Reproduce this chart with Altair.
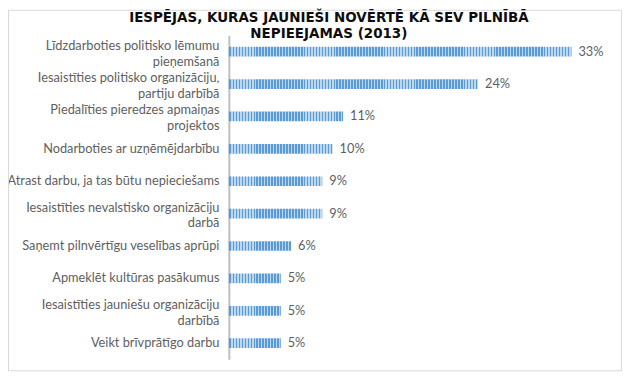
import altair as alt
import pandas as pd

categories = [
    "Līdzdarboties politisko lēmumu\npieņemšanā",
    "Iesaistīties politisko organizāciju,\npartiju darbībā",
    "Piedalīties pieredzes apmaiņas\nprojektos",
    "Nodarboties ar uzņēmējdarbību",
    "Atrast darbu, ja tas būtu nepieciešams",
    "Iesaistīties nevalstisko organizāciju\ndarbā",
    "Saņemt pilnvērtīgu veselības aprūpi",
    "Apmeklēt kultūras pasākumus",
    "Iesaistīties jauniešu organizāciju\ndarbībā",
    "Veikt brīvprātīgo darbu",
]
values = [33, 24, 11, 10, 9, 9, 6, 5, 5, 5]
value_labels = ["33%", "24%", "11%", "10%", "9%", "9%", "6%", "5%", "5%", "5%"]
title_lines = ["IESPĒJAS, KURAS JAUNIEŠI NOVĒRTĒ KĀ SEV PILNĪBĀ", "NEPIEEJAMAS (2013)"]

df = pd.DataFrame({"cat": categories, "val": values, "lab": value_labels})

W, H = 367, 327
PAD_L, PAD_T = 223, 26
TOTAL_W, TOTAL_H = 620, 366

# vertical hatch overlay (white stripes, invisible on white background)
period = 3.0
n = int(W / period) + 1
stops = []
for k in range(n):
    a = k * period / W
    b = (k * period + 1.6) / W
    c = (k + 1) * period / W
    if a > 1:
        break
    stops.append(alt.GradientStop(offset=min(a, 1), color="rgba(255,255,255,0)"))
    stops.append(alt.GradientStop(offset=min(b, 1), color="rgba(255,255,255,0)"))
    stops.append(alt.GradientStop(offset=min(b, 1), color="rgba(255,255,255,0.6)"))
    stops.append(alt.GradientStop(offset=min(c, 1), color="rgba(255,255,255,0.6)"))
hatch = alt.Gradient(gradient="linear", stops=stops, x1=0, x2=1, y1=0, y2=0)

y_enc = alt.Y(
    "cat:N",
    sort=categories,
    title=None,
    scale=alt.Scale(paddingInner=0.7, paddingOuter=0.35),
    axis=alt.Axis(
        labelExpr="split(datum.label, '\\n')",
        labelFont="Lato",
        labelFontSize=12.9,
        labelColor="#606060",
        labelLineHeight=16,
        labelPadding=10,
        labelLimit=300,
        labelOffset=alt.ExprRef(expr="indexof(datum.value, '\\n') >= 0 ? -6 : 0"),
        ticks=False,
        domainColor="#bfbfbf",
        domainWidth=2,
        grid=False,
    ),
)
x_enc = alt.X("val:Q", axis=None, scale=alt.Scale(domain=[0, 35], nice=False))

bars = alt.Chart(df).mark_bar(color="#5b9bd5").encode(x=x_enc, y=y_enc)

overlay = alt.Chart(alt.Data(values=[{}])).mark_rect(fill=hatch).encode(
    x=alt.value(1), x2=alt.value(W), y=alt.value(0), y2=alt.value(H)
)

texts = alt.Chart(df).mark_text(
    align="left", dx=7, font="Lato", fontSize=12.9, color="#606060"
).encode(x=x_enc, y=alt.Y("cat:N", sort=categories), text="lab:N")

border = alt.Chart(alt.Data(values=[{}])).mark_rect(
    fillOpacity=0, stroke="#d9d9d9", strokeWidth=1
).encode(
    x=alt.value(0.5 - PAD_L),
    x2=alt.value(TOTAL_W - 0.5 - PAD_L),
    y=alt.value(0.5 - PAD_T),
    y2=alt.value(TOTAL_H - 1.5 - PAD_T),
)

title_center = 324 - PAD_L
title1 = alt.Chart(alt.Data(values=[{}])).mark_text(
    text=title_lines[0], font="DejaVu Sans", fontSize=13.6, fontWeight="bold",
    color="#0d0d0d", align="center", baseline="alphabetic",
).encode(x=alt.value(title_center), y=alt.value(12 - PAD_T))
title2 = alt.Chart(alt.Data(values=[{}])).mark_text(
    text=title_lines[1], font="DejaVu Sans", fontSize=13.6, fontWeight="bold",
    color="#0d0d0d", align="center", baseline="alphabetic",
).encode(x=alt.value(title_center), y=alt.value(29 - PAD_T))

chart = alt.layer(border, bars, overlay, texts, title1, title2).properties(
    width=W,
    height=H,
    autosize=alt.AutoSizeParams(type="none"),
    padding={"left": PAD_L, "top": PAD_T, "right": TOTAL_W - PAD_L - W, "bottom": TOTAL_H - PAD_T - H},
).configure_view(stroke=None)

chart.save("out.html", embed_options={"renderer": "svg", "actions": False})
